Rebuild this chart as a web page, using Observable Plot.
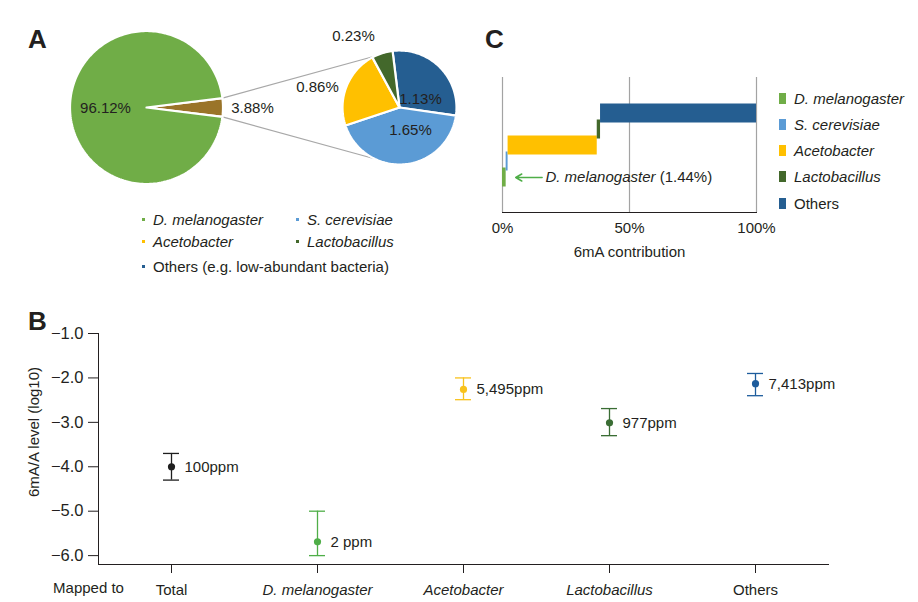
<!DOCTYPE html>
<html>
<head>
<meta charset="utf-8">
<script src="https://cdn.jsdelivr.net/npm/d3@7"></script>
<script src="https://cdn.jsdelivr.net/npm/@observablehq/plot@0.6"></script>
<style>
  body { margin: 0; background: #fff; }
  #fig { position: relative; width: 918px; height: 602px; overflow: hidden;
         font-family: "Liberation Sans", Arial, Helvetica, sans-serif; color: #231f20; }
  .panel { position: absolute; }
  .letter { position: absolute; font-family: "Liberation Sans Narrow", "Liberation Sans", Arial, sans-serif;
            font-weight: bold; font-size: 26px; line-height: 1; }
  .leg { position: absolute; display: flex; align-items: center; height: 18px; font-size: 15px; white-space: nowrap; }
  .leg .sw { display: inline-block; }
</style>
</head>
<body>
<div id="fig"></div>
<script>
// ---------------- DATA ----------------
// Panel A: read abundance
const mainSlices = ["Microbes", "D. melanogaster"];
const mainShares = [3.88, 96.12];
const microbeSlices = ["Others", "S. cerevisiae", "Acetobacter", "Lactobacillus"];
const microbeShares = [1.13, 1.65, 0.86, 0.23];
const legendANames = ["D. melanogaster", "S. cerevisiae", "Acetobacter", "Lactobacillus", "Others (e.g. low-abundant bacteria)"];
const legendAKeys = ["D. melanogaster", "S. cerevisiae", "Acetobacter", "Lactobacillus", "Others"];

// Panel B: 6mA/A level (log10)
const levelGroups = ["Total", "D. melanogaster", "Acetobacter", "Lactobacillus", "Others"];
const levelLog = [-4.0, -5.69, -2.26, -3.01, -2.13];
const levelLow = [-4.3, -6.0, -2.49, -3.3, -2.4];
const levelHigh = [-3.7, -5.0, -2.0, -2.69, -1.9];
const levelLabels = ["100ppm", "2 ppm", "5,495ppm", "977ppm", "7,413ppm"];
const levelTicks = [-1, -2, -3, -4, -5, -6];

// Panel C: 6mA contribution (%)
const contribSpecies = ["D. melanogaster", "S. cerevisiae", "Acetobacter", "Lactobacillus", "Others"];
const contribShares = [1.44, 0.76, 35.1, 1.3, 61.4];
const contribTicks = [0, 50, 100];

// ---------------- STYLE / LAYOUT ----------------
const FONT = '"Liberation Sans", Arial, Helvetica, sans-serif';
const INK = "#231f20";
const speciesColor = {
  "D. melanogaster": "#70ad47", "S. cerevisiae": "#5b9bd5", "Acetobacter": "#ffc000",
  "Lactobacillus": "#43682b", "Others": "#255e91", "Microbes": "#9a7429"
};
const levelColor = {
  "Total": "#1e1e1e", "D. melanogaster": "#4fae48", "Acetobacter": "#f8c21c",
  "Lactobacillus": "#3a6d34", "Others": "#1d5c9c"
};
const italicNames = new Set(["D. melanogaster", "S. cerevisiae", "Acetobacter", "Lactobacillus"]);

const fig = document.getElementById("fig");
function place(el, left, top) { el.classList.add("panel"); el.style.left = left + "px"; el.style.top = top + "px"; fig.appendChild(el); return el; }

// ---------------- PANEL A (pie of pie) ----------------
const PA = { W: 470, H: 205, big: { cx: 146, cy: 107, r: 76.5 }, small: { cx: 399, cy: 107, r: 57 }, smallStart: -7 };
const bigLabelOffset = { "D. melanogaster": [-41, 1], "Microbes": [106, 1] };
const smallLabelOffset = { "Others": [21, -8], "S. cerevisiae": [11, 23], "Acetobacter": [-82, -20], "Lactobacillus": [-46, -71] };

function arcPoly(name, pie, a0, a1) { // compass degrees, clockwise from north
  const n = Math.max(2, Math.ceil(Math.abs(a1 - a0) / 1.5));
  const pts = [{ name, x: pie.cx, y: pie.cy }];
  for (let i = 0; i <= n; i++) {
    const t = (a0 + (a1 - a0) * i / n) * Math.PI / 180;
    pts.push({ name, x: pie.cx + pie.r * Math.sin(t), y: pie.cy - pie.r * Math.cos(t) });
  }
  return pts;
}
function polar(pie, a) { const t = a * Math.PI / 180; return [pie.cx + pie.r * Math.sin(t), pie.cy - pie.r * Math.cos(t)]; }

const slices = [];
const pieLabels = [];
let a = 90 - mainShares[0] * 3.6 / 2;
const microbeWedge = [a, a + mainShares[0] * 3.6];
mainSlices.forEach((s, i) => {
  const a1 = a + mainShares[i] * 3.6;
  slices.push(...arcPoly(s, PA.big, a, a1));
  const o = bigLabelOffset[s];
  pieLabels.push({ x: PA.big.cx + o[0], y: PA.big.cy + o[1], text: mainShares[i].toFixed(2) + "%" });
  a = a1;
});
const microbeTotal = d3.sum(microbeShares);
a = PA.smallStart;
microbeSlices.forEach((s, i) => {
  const a1 = a + microbeShares[i] / microbeTotal * 360;
  slices.push(...arcPoly(s, PA.small, a, a1));
  const o = smallLabelOffset[s];
  pieLabels.push({ x: PA.small.cx + o[0], y: PA.small.cy + o[1], text: microbeShares[i].toFixed(2) + "%" });
  a = a1;
});
const connectors = [
  { p: polar(PA.big, microbeWedge[0]), q: polar(PA.small, 334) },
  { p: polar(PA.big, microbeWedge[1]), q: polar(PA.small, 206) }
];

const plotA = Plot.plot({
  width: PA.W, height: PA.H, margin: 0,
  style: { fontFamily: FONT, fontSize: "15px", color: INK, background: "transparent" },
  x: { domain: [0, PA.W], range: [0, PA.W], axis: null },
  y: { domain: [0, PA.H], range: [0, PA.H], axis: null },
  color: { type: "identity" },
  marks: [
    Plot.link(connectors, { x1: d => d.p[0], y1: d => d.p[1], x2: d => d.q[0], y2: d => d.q[1], stroke: "#a8a8a8", strokeWidth: 1.2 }),
    Plot.line(slices, { x: "x", y: "y", z: "name", fill: d => speciesColor[d.name], stroke: "white", strokeWidth: 2.2, curve: "linear-closed" }),
    Plot.text(pieLabels, { x: "x", y: "y", text: "text", fontSize: 15, fill: INK })
  ]
});
place(plotA, 0, 0);

// Legend A
const legAPos = [[142, 219], [296, 219], [142, 241], [296, 241], [142, 266]];
legendANames.forEach((n, i) => {
  const d = document.createElement("div");
  d.className = "leg";
  d.style.left = legAPos[i][0] + "px"; d.style.top = (legAPos[i][1] - 9) + "px";
  const sw = document.createElement("span"); sw.className = "sw";
  sw.style.cssText = `width:3px;height:3px;background:${speciesColor[legendAKeys[i]]};margin-right:8px;`;
  const t = document.createElement("span"); t.textContent = n;
  if (italicNames.has(n)) t.style.fontStyle = "italic";
  d.append(sw, t); fig.appendChild(d);
});

// ---------------- PANEL C (waterfall contribution) ----------------
const cEnds = d3.cumsum(contribShares);
const cData = contribSpecies.map((s, i) => ({ s, x1: i ? cEnds[i - 1] : 0, x2: cEnds[i] }));
const cAnnot = [{ s: contribSpecies[0], from: 15.6, to: 5.2, at: 16.9, text: `${contribSpecies[0]} (${contribShares[0]}%)` }];

const plotC = Plot.plot({
  width: 300, height: 250, marginLeft: 22, marginRight: 24, marginTop: 57, marginBottom: 58,
  style: { fontFamily: FONT, fontSize: "15px", color: INK, background: "transparent" },
  x: { domain: [0, 100], ticks: contribTicks, tickFormat: d => d + "%", tickSize: 0, tickPadding: 10, line: true, label: null },
  y: { type: "band", domain: contribSpecies.slice().reverse(), paddingInner: 0, paddingOuter: 1.48, axis: null },
  color: { type: "identity" },
  marks: [
    Plot.ruleX(contribTicks, { stroke: "#a3a3a3", strokeWidth: 1.2 }),
    Plot.barX(cData, { x1: "x1", x2: "x2", y: "s", fill: d => speciesColor[d.s], insetTop: -1.5, insetBottom: -1.5 }),
    Plot.arrow(cAnnot, { x1: "from", x2: "to", y1: "s", y2: "s", stroke: "#4fae48", strokeWidth: 1.5, headLength: 7 }),
    Plot.text(cAnnot, { x: "at", y: "s", text: "text", textAnchor: "start", fontSize: 15, fill: INK }),
    Plot.text(["6mA contribution"], { frameAnchor: "bottom", dy: 44, fontSize: 15, fill: INK })
  ]
});
d3.select(plotC).selectAll("text").filter(function () { return this.textContent === cAnnot[0].text; })
  .each(function () {
    const t = d3.select(this); t.text(null);
    t.append("tspan").attr("font-style", "italic").text(contribSpecies[0]);
    t.append("tspan").text(` (${contribShares[0]}%)`);
  });
place(plotC, 480, 20);

// Legend C
const legCRows = [98, 124, 150, 176, 203];
contribSpecies.forEach((n, i) => {
  const d = document.createElement("div");
  d.className = "leg";
  d.style.left = "779px"; d.style.top = (legCRows[i] - 9) + "px";
  const sw = document.createElement("span"); sw.className = "sw";
  sw.style.cssText = `width:7px;height:11px;background:${speciesColor[n]};margin-right:8px;`;
  const t = document.createElement("span"); t.textContent = n;
  if (italicNames.has(n)) t.style.fontStyle = "italic";
  d.append(sw, t); fig.appendChild(d);
});

// ---------------- PANEL B (6mA levels) ----------------
const levelData = levelGroups.map((g, i) => ({ g, v: levelLog[i], lo: levelLow[i], hi: levelHigh[i], label: levelLabels[i] }));
const capInner = 0.89; // band padding so the band width equals the error-bar cap width
const fmtY = d => d.toFixed(1).replace("-", "\u2212");
const plotB = Plot.plot({
  width: 918, height: 302, marginLeft: 98, marginRight: 90, marginTop: 33, marginBottom: 38,
  style: { fontFamily: FONT, fontSize: "15px", color: INK, background: "transparent" },
  x: { type: "band", domain: levelGroups, paddingInner: capInner, paddingOuter: capInner / 2, line: true, tickSize: 9, tickPadding: 11, label: null },
  y: { domain: [-6.2, -1], ticks: levelTicks, tickFormat: fmtY, tickSize: 10, tickPadding: 5, line: true, label: null },
  color: { type: "identity" },
  marks: [
    Plot.ruleX(levelData, { x: "g", y1: "lo", y2: "hi", stroke: d => levelColor[d.g], strokeWidth: 1.3 }),
    Plot.tickY(levelData, { x: "g", y: "lo", stroke: d => levelColor[d.g], strokeWidth: 1.3 }),
    Plot.tickY(levelData, { x: "g", y: "hi", stroke: d => levelColor[d.g], strokeWidth: 1.3 }),
    Plot.dot(levelData, { x: "g", y: "v", fill: d => levelColor[d.g], r: 3.6 }),
    Plot.text(levelData, { x: "g", y: "v", text: "label", dx: 13, textAnchor: "start", fontSize: 15, fill: INK }),
    Plot.text(["Mapped to"], { frameAnchor: "bottom-left", textAnchor: "middle", dx: -10, dy: 28, fontSize: 15, fill: INK }),
    Plot.text(["6mA/A level (log10)"], { frameAnchor: "left", textAnchor: "middle", rotate: -90, dx: -64, dy: -17, fontSize: 15, fill: INK })
  ]
});
const yTickTexts = new Set(levelTicks.map(fmtY));
d3.select(plotB).selectAll("text").filter(function () { return italicNames.has(this.textContent); })
  .attr("font-style", "italic");
d3.select(plotB).selectAll("text").filter(function () { return yTickTexts.has(this.textContent); })
  .attr("font-size", "16.5px");
place(plotB, 0, 300);

// Panel letters
[["A", 28, 26], ["B", 28, 308], ["C", 485, 26]].forEach(([t, x, y]) => {
  const d = document.createElement("div"); d.className = "letter"; d.textContent = t;
  d.style.left = x + "px"; d.style.top = y + "px"; fig.appendChild(d);
});
</script>
</body>
</html>
